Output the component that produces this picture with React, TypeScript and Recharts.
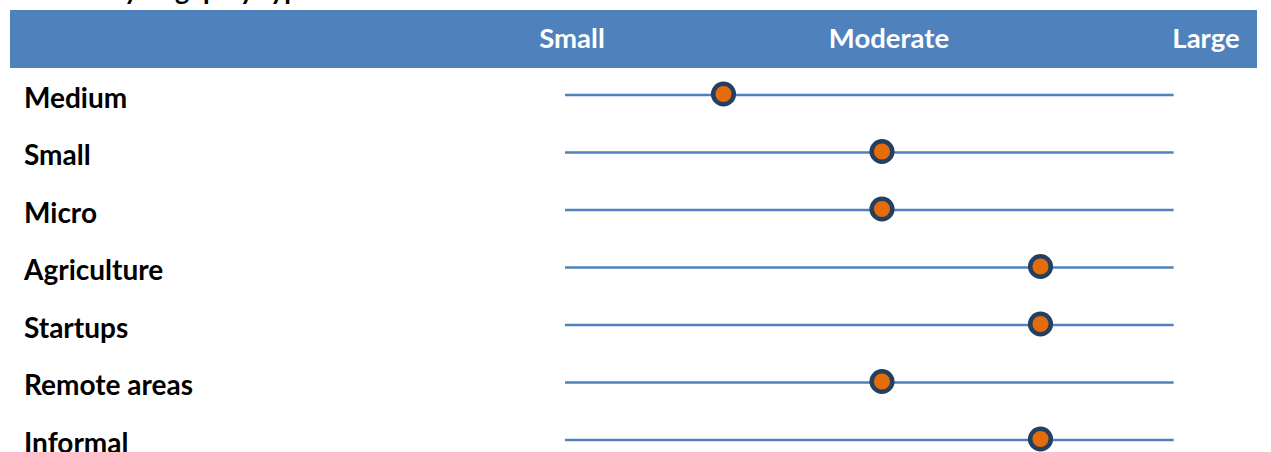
import React from "react";
import { ScatterChart, Scatter, XAxis, YAxis, ReferenceLine } from "recharts";

// ---- data ----
const categories = ["Medium", "Small", "Micro", "Agriculture", "Startups", "Remote areas", "Informal"];
const gapValues = [1.5, 2, 2, 2.5, 2.5, 2, 2.5];
const scaleTicks = [1, 2, 3];
const scaleLabels = ["Small", "Moderate", "Large"];
const lineStart = 1;
const lineEnd = 2.92;
const titleText = "Severity of gap by type";

const data = categories.map((name, i) => ({ name, value: gapValues[i] }));

const FONT = "Lato, 'Open Sans', sans-serif";
const BAND = "#4F81BD";

const HeaderTick = (props: any) => {
  const { x, payload } = props;
  const idx = scaleTicks.indexOf(payload.value);
  return (
    <text x={x + 7} y={48} textAnchor="middle" fill="#FFFFFF" fontFamily={FONT} fontWeight={700} fontSize={27.5}>
      {idx >= 0 ? scaleLabels[idx] : ""}
    </text>
  );
};

const RowTick = (props: any) => {
  const { y, payload } = props;
  return (
    <text x={24} y={y + 12.5} textAnchor="start" fill="#000000" fontFamily={FONT} fontWeight={700} fontSize={28}>
      {payload.value}
    </text>
  );
};

const Dot = (props: any) => {
  const { cx, cy } = props;
  return <circle cx={cx} cy={cy - 1} r={10.3} fill="#E46C0A" stroke="#243F60" strokeWidth={4.5} />;
};

export default function App() {
  return (
    <div
      style={{
        position: "fixed",
        left: 0,
        top: 0,
        width: 1271,
        height: 452,
        overflow: "hidden",
        background: "#FFFFFF",
      }}
    >
      <svg style={{ position: "absolute", left: 0, top: 0 }} width={1271} height={12}>
        <text x={40} y={0} fontFamily={FONT} fontWeight={700} fontSize={27} fill="#000000">
          {titleText}
        </text>
      </svg>
      <div style={{ position: "absolute", left: 10, top: 10, width: 1247, height: 58, background: BAND }} />
      <div style={{ position: "absolute", left: 0, top: 0 }}>
        <ScatterChart width={1271} height={480} margin={{ top: 26.25, right: 72, bottom: 11.25, left: 0 }}>
          <XAxis
            type="number"
            dataKey="value"
            xAxisId="x"
            orientation="top"
            domain={[1, 3]}
            ticks={scaleTicks}
            axisLine={false}
            tickLine={false}
            height={40}
            tick={<HeaderTick />}
            allowDataOverflow
          />
          <YAxis
            type="category"
            dataKey="name"
            yAxisId="y"
            allowDuplicatedCategory={false}
            width={565}
            axisLine={false}
            tickLine={false}
            reversed
            interval={0}
            tick={<RowTick />}
          />
          {data.map((d) => (
            <ReferenceLine
              key={d.name}
              xAxisId="x"
              yAxisId="y"
              segment={[
                { x: lineStart, y: d.name },
                { x: lineEnd, y: d.name },
              ]}
              stroke={BAND}
              strokeWidth={2.5}
              ifOverflow="visible"
            />
          ))}
          <Scatter data={data} xAxisId="x" yAxisId="y" dataKey="value" shape={<Dot />} isAnimationActive={false} />
        </ScatterChart>
      </div>
    </div>
  );
}
